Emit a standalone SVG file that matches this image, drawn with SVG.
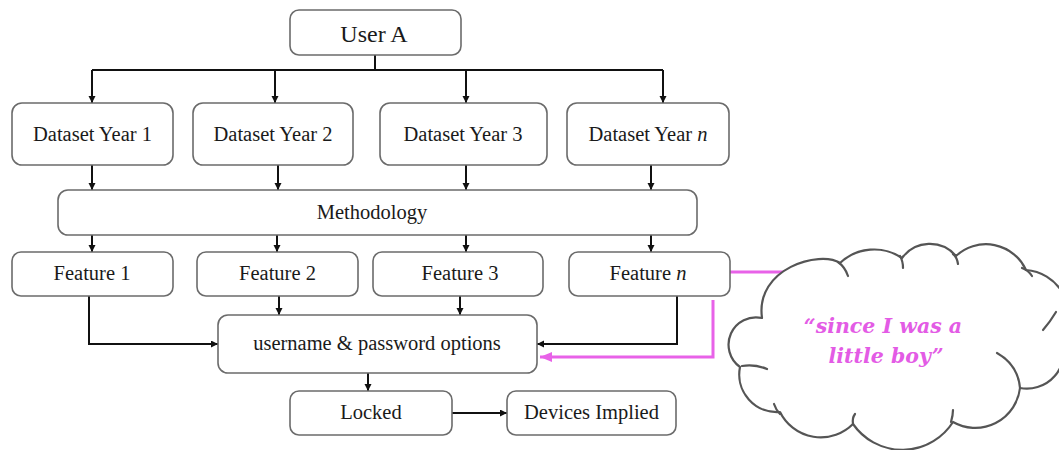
<svg xmlns="http://www.w3.org/2000/svg" width="1059" height="450" viewBox="0 0 1059 450">
  <style>
    .box { fill: #ffffff; stroke: #6b6b6b; stroke-width: 1.6; }
    .lbl { font-family: "Liberation Serif", "Times New Roman", serif; font-size: 20.5px; fill: #1a1a1a; text-anchor: middle; }
    .big { font-size: 24px; }
    .wire { fill: none; stroke: #111111; stroke-width: 2; }
    .pink { fill: none; stroke: #e862e8; stroke-width: 3; }
    .cloud { fill: #ffffff; stroke: #555555; stroke-width: 2.2; stroke-linejoin: round; }
    .hint { fill: none; stroke: #555555; stroke-width: 2.2; stroke-linecap: round; }
    .quote { font-family: "DejaVu Serif", "Liberation Serif", serif; font-size: 20.5px; font-weight: bold; font-style: italic; fill: #e35be5; text-anchor: middle; }
  </style>
  <defs>
    <marker id="arr" markerUnits="userSpaceOnUse" markerWidth="8" markerHeight="8" refX="7" refY="3.5" orient="auto">
      <path d="M0,0 L7,3.5 L0,7 z" fill="#111111"/>
    </marker>
    <marker id="arrPink" markerUnits="userSpaceOnUse" markerWidth="14" markerHeight="12" refX="12" refY="5" orient="auto">
      <path d="M0,0 L12,5 L0,10 z" fill="#e862e8"/>
    </marker>
  </defs>

  <rect width="1059" height="450" fill="#ffffff"/>

  <!-- connectors -->
  <g id="connectors">
    <!-- User A fan-out -->
    <path class="wire" d="M375,55 V70"/>
    <path class="wire" d="M92,70 H663"/>
    <path class="wire" d="M92,70 V103" marker-end="url(#arr)"/>
    <path class="wire" d="M275,70 V103" marker-end="url(#arr)"/>
    <path class="wire" d="M466,70 V103" marker-end="url(#arr)"/>
    <path class="wire" d="M663,70 V103" marker-end="url(#arr)"/>
    <!-- datasets into methodology -->
    <path class="wire" d="M92,165 V190" marker-end="url(#arr)"/>
    <path class="wire" d="M278,163 V190" marker-end="url(#arr)"/>
    <path class="wire" d="M466,163 V190" marker-end="url(#arr)"/>
    <path class="wire" d="M651,163 V190" marker-end="url(#arr)"/>
    <!-- methodology into features -->
    <path class="wire" d="M92,235 V252" marker-end="url(#arr)"/>
    <path class="wire" d="M277,235 V252" marker-end="url(#arr)"/>
    <path class="wire" d="M466,235 V252" marker-end="url(#arr)"/>
    <path class="wire" d="M651,235 V252" marker-end="url(#arr)"/>
    <!-- features into username & password options -->
    <path class="wire" d="M89,296 V344 H218" marker-end="url(#arr)"/>
    <path class="wire" d="M279,296 V315" marker-end="url(#arr)"/>
    <path class="wire" d="M460,296 V315" marker-end="url(#arr)"/>
    <path class="wire" d="M677,296 V344 H537" marker-end="url(#arr)"/>
    <!-- lower chain -->
    <path class="wire" d="M368,373 V391" marker-end="url(#arr)"/>
    <path class="wire" d="M452,413 H507" marker-end="url(#arr)"/>
    <!-- highlighted callout links -->
    <path class="pink" d="M730,272 H784"/>
    <path class="pink" d="M713,300 V357 H540" marker-end="url(#arrPink)"/>
  </g>

  <g id="user-a">
    <rect class="box" x="290" y="10" width="171" height="45" rx="9"/>
    <text class="lbl big" x="374" y="41.5">User A</text>
  </g>

  <g id="dataset-1">
    <rect class="box" x="12" y="103" width="161" height="62" rx="10"/>
    <text class="lbl" x="92.5" y="141">Dataset Year 1</text>
  </g>
  <g id="dataset-2">
    <rect class="box" x="193" y="103" width="160" height="62" rx="10"/>
    <text class="lbl" x="273" y="141">Dataset Year 2</text>
  </g>
  <g id="dataset-3">
    <rect class="box" x="380" y="103" width="167" height="62" rx="10"/>
    <text class="lbl" x="463" y="141">Dataset Year 3</text>
  </g>
  <g id="dataset-n">
    <rect class="box" x="567" y="103" width="162" height="62" rx="10"/>
    <text class="lbl" x="648" y="141">Dataset Year <tspan font-style="italic">n</tspan></text>
  </g>

  <g id="methodology">
    <rect class="box" x="58" y="190" width="639" height="45" rx="10"/>
    <text class="lbl" x="372" y="219">Methodology</text>
  </g>

  <g id="feature-1">
    <rect class="box" x="12" y="252" width="161" height="44" rx="9"/>
    <text class="lbl" x="92" y="280">Feature 1</text>
  </g>
  <g id="feature-2">
    <rect class="box" x="197" y="252" width="161" height="44" rx="9"/>
    <text class="lbl" x="277.5" y="280">Feature 2</text>
  </g>
  <g id="feature-3">
    <rect class="box" x="373" y="252" width="170" height="44" rx="9"/>
    <text class="lbl" x="460" y="280">Feature 3</text>
  </g>
  <g id="feature-n">
    <rect class="box" x="569" y="252" width="161" height="44" rx="9"/>
    <text class="lbl" x="648" y="280">Feature <tspan font-style="italic">n</tspan></text>
  </g>

  <g id="credentials">
    <rect class="box" x="218" y="315" width="319" height="58" rx="10"/>
    <text class="lbl" x="377" y="350">username &amp; password options</text>
  </g>

  <g id="locked">
    <rect class="box" x="290" y="391" width="162" height="44" rx="9"/>
    <text class="lbl" x="371" y="419">Locked</text>
  </g>

  <g id="devices">
    <rect class="box" x="507" y="391" width="169" height="44" rx="9"/>
    <text class="lbl" x="591.5" y="419">Devices Implied</text>
  </g>

  <!-- thought cloud -->
  <g id="quote-cloud">
    <path class="cloud" d="M762,318
      C755,268 820,250 840,263
      A50,50 0 0 1 902,258
      A34.5,34.5 0 0 1 956,256
      A44,44 0 0 1 1026,270
      A46,46 0 0 1 1062,340
      A37,37 0 0 1 1020,388
      A45,45 0 0 1 953,422
      A60,60 0 0 1 853,424
      A45.5,45.5 0 0 1 780,412
      A37.7,37.7 0 0 1 740,367
      A27.4,27.4 0 0 1 762,318 Z"/>
    <path class="hint" d="M838,262 Q845,267 848,276"/>
    <path class="hint" d="M900,256 Q903,261 903,268"/>
    <path class="hint" d="M953,254 Q957,257 958,264"/>
    <path class="hint" d="M1022,268 Q1028,270 1032,276"/>
    <path class="hint" d="M1056,312 Q1050,322 1043,330"/>
    <path class="hint" d="M997,353 Q1018,365 1020,388"/>
    <path class="hint" d="M951,422 Q953,415 953,410"/>
    <path class="hint" d="M853,424 Q852,418 855,414"/>
    <path class="hint" d="M780,414 Q776,410 774,404"/>
    <path class="hint" d="M742,366 Q755,364 767,369"/>
    <text class="quote" x="883" y="333">“since I was a</text>
    <text class="quote" x="886" y="363">little boy”</text>
  </g>
</svg>
